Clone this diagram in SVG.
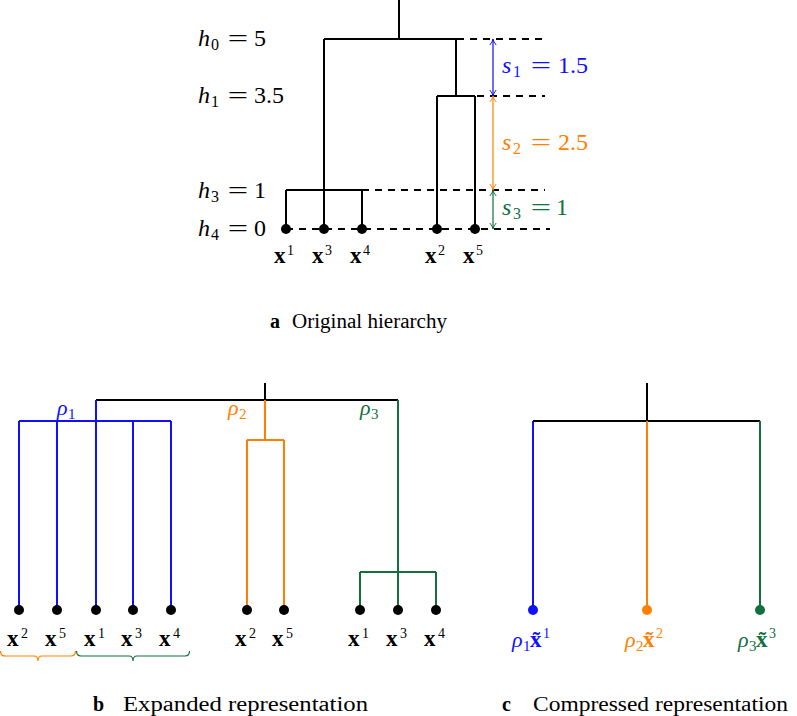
<svg xmlns="http://www.w3.org/2000/svg" width="797" height="716" viewBox="0 0 797 716" font-family="Liberation Serif, Times New Roman, serif">
<style>
text{font-family:"Liberation Serif","Times New Roman",serif;fill:#000}
.i{font-style:italic}
.bx{font-weight:bold}
.k{stroke:#000;stroke-width:2;fill:none}
.bl{stroke:#1010ff;stroke-width:2;fill:none}
.or{stroke:#ff8000;stroke-width:2;fill:none}
.gr{stroke:#12703e;stroke-width:2;fill:none}
.d{stroke:#000;stroke-width:2;stroke-dasharray:7 6;fill:none}
.m{font-size:24px}
.lab{font-size:23px}
.cap{font-size:20px}
.cb{fill:#1010ff}
.co{fill:#ff8000}
.cg{fill:#12703e}
</style>
<defs>
<marker id="ab" viewBox="0 0 10 10" refX="9.5" refY="5" markerWidth="8" markerHeight="8" markerUnits="userSpaceOnUse" orient="auto-start-reverse"><path d="M2,1 Q6,4.5 9.5,5 Q6,5.5 2,9" fill="none" stroke="#1010ff" stroke-width="1.2"/></marker>
<marker id="ao" viewBox="0 0 10 10" refX="9.5" refY="5" markerWidth="8" markerHeight="8" markerUnits="userSpaceOnUse" orient="auto-start-reverse"><path d="M2,1 Q6,4.5 9.5,5 Q6,5.5 2,9" fill="none" stroke="#ff8000" stroke-width="1.2"/></marker>
<marker id="ag" viewBox="0 0 10 10" refX="9.5" refY="5" markerWidth="8" markerHeight="8" markerUnits="userSpaceOnUse" orient="auto-start-reverse"><path d="M2,1 Q6,4.5 9.5,5 Q6,5.5 2,9" fill="none" stroke="#12703e" stroke-width="1.2"/></marker>
</defs>

<!-- ===== a: original hierarchy ===== -->
<g id="levels">
<path class="d" d="M457,39 H545 M477,96 H545 M362,190 H545 M286,229 H550"/>
<g id="h0lab" class="m"><text x="198" y="46"><tspan class="i">h</tspan><tspan x="211" y="50" font-size="16">0</tspan></text><text transform="translate(238,46) scale(1.5,1)" text-anchor="middle">=</text><text x="254" y="46">5</text></g>
<g id="h1lab" class="m"><text x="198" y="103"><tspan class="i">h</tspan><tspan x="211" y="107" font-size="16">1</tspan></text><text transform="translate(238,103) scale(1.5,1)" text-anchor="middle">=</text><text x="254" y="103">3.5</text></g>
<g id="h3lab" class="m"><text x="198" y="198"><tspan class="i">h</tspan><tspan x="211" y="202" font-size="16">3</tspan></text><text transform="translate(238,198) scale(1.5,1)" text-anchor="middle">=</text><text x="254" y="198">1</text></g>
<g id="h4lab" class="m"><text x="198" y="236"><tspan class="i">h</tspan><tspan x="211" y="240" font-size="16">4</tspan></text><text transform="translate(238,236) scale(1.5,1)" text-anchor="middle">=</text><text x="254" y="236">0</text></g>
</g>

<g id="a-connectors">
<path class="k" d="M399,0 V39 M324,39 H457 M324,39 V229 M456,39 V96 M437,96 H475 M437,96 V229 M475,96 V229 M286,190 H362 M286,190 V229 M362,190 V229"/>
<line x1="493" y1="39" x2="493" y2="96" stroke="#1010ff" stroke-width="1.2" marker-start="url(#ab)" marker-end="url(#ab)"/>
<line x1="493" y1="96" x2="493" y2="190" stroke="#ff8000" stroke-width="1.2" marker-start="url(#ao)" marker-end="url(#ao)"/>
<line x1="493" y1="190" x2="493" y2="229" stroke="#12703e" stroke-width="1.2" marker-start="url(#ag)" marker-end="url(#ag)"/>
</g>

<g id="s-labels" class="m">
<g id="s1"><text x="502" y="73" class="cb"><tspan class="i">s</tspan><tspan x="513" y="77" font-size="16">1</tspan></text><text transform="translate(541,73) scale(1.5,1)" text-anchor="middle" class="cb">=</text><text x="558" y="73" class="cb">1.5</text></g>
<g id="s2"><text x="502" y="150" class="co"><tspan class="i">s</tspan><tspan x="513" y="154" font-size="16">2</tspan></text><text transform="translate(541,150) scale(1.5,1)" text-anchor="middle" class="co">=</text><text x="558" y="150" class="co">2.5</text></g>
<g id="s3"><text x="502" y="215" class="cg"><tspan class="i">s</tspan><tspan x="513" y="219" font-size="16">3</tspan></text><text transform="translate(541,215) scale(1.5,1)" text-anchor="middle" class="cg">=</text><text x="556" y="215" class="cg">1</text></g>
</g>

<g id="a-leaves">
<g id="a-x1"><circle cx="286" cy="229" r="5"/><text x="274" y="263" class="lab bx">x</text><text x="287" y="255" font-size="14">1</text></g>
<g id="a-x3"><circle cx="324" cy="229" r="5"/><text x="312" y="263" class="lab bx">x</text><text x="325" y="255" font-size="14">3</text></g>
<g id="a-x4"><circle cx="362" cy="229" r="5"/><text x="350" y="263" class="lab bx">x</text><text x="363" y="255" font-size="14">4</text></g>
<g id="a-x2"><circle cx="437" cy="229" r="5"/><text x="425" y="263" class="lab bx">x</text><text x="438" y="255" font-size="14">2</text></g>
<g id="a-x5"><circle cx="475" cy="229" r="5"/><text x="463" y="263" class="lab bx">x</text><text x="476" y="255" font-size="14">5</text></g>
</g>

<g id="cap-a" class="cap"><text x="270" y="328" class="bx">a</text><text x="292" y="328" textLength="155" lengthAdjust="spacingAndGlyphs">Original hierarchy</text></g>

<!-- ===== b: expanded representation ===== -->
<g id="b-connectors">
<path class="k" d="M265,383 V400 M96,400 H398"/>
<path class="bl" d="M96,400 V610 M19,421 H171 M19,421 V610 M57,421 V610 M133,421 V610 M171,421 V610"/>
<path class="or" d="M265,400 V440 M247,440 H284 M247,440 V610 M284,440 V610"/>
<path class="gr" d="M398,400 V610 M360,572 H436 M360,572 V610 M436,572 V610"/>
</g>

<g id="b-rho">
<text x="57" y="415" font-size="22" class="cb"><tspan class="i">ρ</tspan><tspan x="68" y="419" font-size="15">1</tspan></text>
<text x="228" y="415" font-size="22" class="co"><tspan class="i">ρ</tspan><tspan x="239" y="419" font-size="15">2</tspan></text>
<text x="360" y="415" font-size="22" class="cg"><tspan class="i">ρ</tspan><tspan x="371" y="419" font-size="15">3</tspan></text>
</g>

<g id="b-leaves">
<g id="b-x2a"><circle cx="19" cy="610" r="5"/><text x="7" y="646" class="lab bx">x</text><text x="21" y="638" font-size="14">2</text></g>
<g id="b-x5a"><circle cx="57" cy="610" r="5"/><text x="45" y="646" class="lab bx">x</text><text x="59" y="638" font-size="14">5</text></g>
<g id="b-x1a"><circle cx="96" cy="610" r="5"/><text x="84" y="646" class="lab bx">x</text><text x="98" y="638" font-size="14">1</text></g>
<g id="b-x3a"><circle cx="133" cy="610" r="5"/><text x="121" y="646" class="lab bx">x</text><text x="135" y="638" font-size="14">3</text></g>
<g id="b-x4a"><circle cx="171" cy="610" r="5"/><text x="159" y="646" class="lab bx">x</text><text x="173" y="638" font-size="14">4</text></g>
<g id="b-x2b"><circle cx="247" cy="610" r="5"/><text x="235" y="646" class="lab bx">x</text><text x="249" y="638" font-size="14">2</text></g>
<g id="b-x5b"><circle cx="284" cy="610" r="5"/><text x="272" y="646" class="lab bx">x</text><text x="286" y="638" font-size="14">5</text></g>
<g id="b-x1b"><circle cx="360" cy="610" r="5"/><text x="348" y="646" class="lab bx">x</text><text x="362" y="638" font-size="14">1</text></g>
<g id="b-x3b"><circle cx="398" cy="610" r="5"/><text x="386" y="646" class="lab bx">x</text><text x="400" y="638" font-size="14">3</text></g>
<g id="b-x4b"><circle cx="436" cy="610" r="5"/><text x="424" y="646" class="lab bx">x</text><text x="438" y="638" font-size="14">4</text></g>
</g>

<g id="braces">
<path d="M0.5,651 Q0.5,656 5,656 L34,656 Q38,656 38,661 Q38,656 42,656 L71,656 Q75.5,656 75.5,651" fill="none" stroke="#ff8000" stroke-width="1.2"/>
<path d="M76.5,651 Q76.5,656 81,656 L129,656 Q133,656 133,661 Q133,656 137,656 L185,656 Q189.5,656 189.5,651" fill="none" stroke="#12703e" stroke-width="1.2"/>
</g>

<g id="cap-b" class="cap"><text x="93" y="711" class="bx">b</text><text x="123" y="711" textLength="245" lengthAdjust="spacingAndGlyphs">Expanded representation</text></g>

<!-- ===== c: compressed representation ===== -->
<g id="c-connectors">
<path class="k" d="M647,383 V421 M533,421 H760"/>
<path class="bl" d="M533,421 V610"/>
<path class="or" d="M647,421 V610"/>
<path class="gr" d="M760,421 V610"/>
</g>

<g id="c-leaves">
<g id="c-1"><circle cx="533" cy="610" r="5" class="cb"/><text x="512" y="647" font-size="22" class="cb"><tspan class="i">ρ</tspan><tspan x="523" y="651" font-size="15">1</tspan><tspan x="530" y="647" class="bx" font-size="23">x̃</tspan><tspan x="543" y="638" font-size="14">1</tspan></text></g>
<g id="c-2"><circle cx="647" cy="610" r="5" class="co"/><text x="625" y="647" font-size="22" class="co"><tspan class="i">ρ</tspan><tspan x="636" y="651" font-size="15">2</tspan><tspan x="643" y="647" class="bx" font-size="23">x̃</tspan><tspan x="656" y="638" font-size="14">2</tspan></text></g>
<g id="c-3"><circle cx="760" cy="610" r="5" class="cg"/><text x="738" y="647" font-size="22" class="cg"><tspan class="i">ρ</tspan><tspan x="749" y="651" font-size="15">3</tspan><tspan x="756" y="647" class="bx" font-size="23">x̃</tspan><tspan x="769" y="638" font-size="14">3</tspan></text></g>
</g>

<g id="cap-c" class="cap"><text x="502" y="711" class="bx">c</text><text x="533" y="711" textLength="255" lengthAdjust="spacingAndGlyphs">Compressed representation</text></g>
</svg>
